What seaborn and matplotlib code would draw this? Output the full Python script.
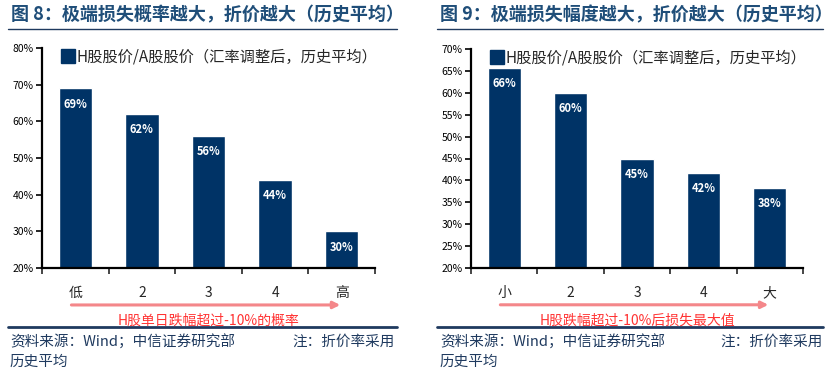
import matplotlib
matplotlib.use("Agg")
import matplotlib.pyplot as plt
import seaborn as sns
import pandas as pd
from matplotlib.lines import Line2D
from matplotlib.ticker import FixedLocator, FuncFormatter

# data
prob_cats = ["低", "2", "3", "4", "高"]
prob_vals = [69, 62, 56, 44, 30]
loss_cats = ["小", "2", "3", "4", "大"]
loss_vals = [65.7, 60, 45, 41.8, 38.3]
prob_labels = ["69%", "62%", "56%", "44%", "30%"]
loss_labels = ["66%", "60%", "45%", "42%", "38%"]

legend_text = "H股股价/A股股价（汇率调整后，历史平均）"
navy = "#003366"
title_color = "#1F4E79"
red = "#FF3333"
arrow_color = "#F4878A"

sns.set_theme(style="white")
plt.rcParams["font.family"] = ["Noto Sans CJK SC", "DejaVu Sans"]

W, H = 837, 375
fig = plt.figure(figsize=(W / 100, H / 100), dpi=100)


def fx(px):
    return px / W


def fy(py):
    return 1 - py / H


def draw_panel(rect, cats, vals, labels, ylim, ystep, title, xlab, title_x0, title_x1):
    ax = fig.add_axes(rect)
    df = pd.DataFrame({"cat": cats, "val": vals})
    sns.barplot(data=df, x="cat", y="val", color=navy, saturation=1,
                width=0.5, ax=ax)
    ax.set_ylim(*ylim)
    ax.set_xlim(-0.5, len(cats) - 0.5)
    ax.set_xlabel("")
    ax.set_ylabel("")
    for s in ["top", "right"]:
        ax.spines[s].set_visible(False)
    for s in ["left", "bottom"]:
        ax.spines[s].set_color("black")
        ax.spines[s].set_linewidth(1.6)
    yt = list(range(ylim[0], ylim[1] + 1, ystep))
    ax.set_yticks(yt)
    ax.yaxis.set_major_formatter(FuncFormatter(lambda v, p: f"{int(v)}%"))
    ax.tick_params(axis="y", direction="out", length=4, width=1.2,
                   labelsize=7.5, pad=2, left=True, colors="black")
    ax.tick_params(axis="x", length=0, labelsize=10, pad=13)
    ax.xaxis.set_minor_locator(FixedLocator([i - 0.5 for i in range(len(cats) + 1)]))
    ax.tick_params(axis="x", which="minor", direction="out", length=4,
                   width=1.2, bottom=True)
    for i, (v, lab) in enumerate(zip(vals, labels)):
        ax.annotate(lab, xy=(i, v), xytext=(0, -11.5), textcoords="offset points",
                    ha="center", va="center", color="white", fontsize=8,
                    fontweight="semibold")
    # legend
    handle = Line2D([], [], marker="s", color=navy, linestyle="",
                    markersize=9.5)
    ax.legend([handle], [legend_text], loc="upper left",
              bbox_to_anchor=(0.045, 1.025), frameon=False,
              fontsize=11, handlelength=0.6, handletextpad=0.3,
              borderaxespad=0)
    # arrow and axis caption
    ax.annotate("", xy=(4.02, -0.168), xytext=(-0.1, -0.168),
                xycoords=("data", "axes fraction"),
                textcoords=("data", "axes fraction"),
                arrowprops=dict(arrowstyle="-|>", color=arrow_color, lw=2.2,
                                mutation_scale=10),
                annotation_clip=False)
    ax.text(2, -0.24, xlab, ha="center", va="center", color=red,
            fontsize=10, transform=ax.get_xaxis_transform())
    # title and rules
    fig.text(fx(title_x0 + 3), fy(15), title, ha="left", va="center",
             color=title_color, fontsize=13, fontweight="bold")
    fig.add_artist(Line2D([fx(title_x0), fx(title_x1)], [fy(29), fy(29)],
                          color="#1F3A5F", lw=1.0))
    fig.add_artist(Line2D([fx(title_x0), fx(title_x1)], [fy(327), fy(327)],
                          color="#1F3A5F", lw=2.0))
    return ax


draw_panel([fx(42), fy(268), fx(375) - fx(42), fy(48) - fy(268)],
           prob_cats, prob_vals, prob_labels, (20, 80), 10,
           "图 8：极端损失概率越大，折价越大（历史平均）",
           "H股单日跌幅超过-10%的概率", 8, 397)
draw_panel([fx(471), fy(268), fx(803) - fx(471), fy(49) - fy(268)],
           loss_cats, loss_vals, loss_labels, (20, 70), 5,
           "图 9：极端损失幅度越大，折价越大（历史平均）",
           "H股跌幅超过-10%后损失最大值", 437, 823)

# footers
src = "资料来源：Wind；中信证券研究部"
fig.text(fx(10), fy(342), src, ha="left", va="center", fontsize=10.5,
         color="#1F3A5F")
fig.text(fx(395), fy(342), "注：折价率采用", ha="right", va="center",
         fontsize=10.5, color="#1F3A5F")
fig.text(fx(10), fy(362), "历史平均", ha="left", va="center", fontsize=10.5,
         color="#1F3A5F")
fig.text(fx(440), fy(342), src, ha="left", va="center", fontsize=10.5,
         color="#1F3A5F")
fig.text(fx(823), fy(342), "注：折价率采用", ha="right", va="center",
         fontsize=10.5, color="#1F3A5F")
fig.text(fx(440), fy(362), "历史平均", ha="left", va="center", fontsize=10.5,
         color="#1F3A5F")

fig.savefig("out.png", dpi=100)
